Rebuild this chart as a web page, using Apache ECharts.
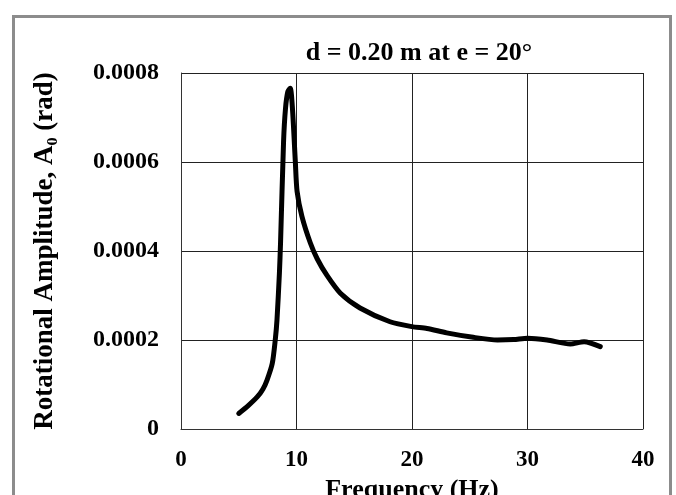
<!DOCTYPE html>
<html>
<head>
<meta charset="utf-8">
<script src="https://cdn.jsdelivr.net/npm/echarts@6/dist/echarts.min.js"></script>
<style>
html,body{margin:0;padding:0;background:#fff;}
#chart{width:676px;height:495px;}
</style>
</head>
<body>
<div id="chart"></div>
<script>
// Data
const freqHz = [5.0, 5.8, 6.6, 7.1, 7.45, 7.9, 8.16, 8.31, 8.52, 8.62, 8.88, 9.05, 9.25, 9.46, 9.65, 9.9, 10.05, 10.47, 11.2, 11.8, 12.64, 13.8, 15.5, 18.1, 20, 21.3, 23, 25.3, 27.4, 28.8, 30, 31.7, 33.7, 34.9, 36.3];
const amplitudeRad = [0.000035, 0.000052, 0.000072, 0.00009, 0.00011, 0.000147, 0.0002, 0.000245, 0.00035, 0.00042, 0.000646, 0.000721, 0.000758, 0.000766, 0.00072, 0.0006, 0.000534, 0.000478, 0.000418, 0.000382, 0.000345, 0.000305, 0.000272, 0.000241, 0.00023, 0.000226, 0.000216, 0.000206, 0.0002, 0.000201, 0.000204, 0.0002, 0.000191, 0.000196, 0.000185];
const xTicks = [0, 10, 20, 30, 40];
const yTicks = ['0', '0.0002', '0.0004', '0.0006', '0.0008'];
const titleText = 'd = 0.20 m at e = 20°';
const xName = 'Frequency (Hz)';
const yName = 'Rotational Amplitude, A\u2080 (rad)';

const seriesData = freqHz.map((f, i) => [f, amplitudeRad[i]]);
const FONT = '"Liberation Serif", "Times New Roman", serif';

const chart = echarts.init(document.getElementById('chart'), null, {renderer: 'canvas'});
chart.setOption({
  backgroundColor: '#ffffff',
  animation: false,
  graphic: [{
    type: 'rect',
    shape: {x: 13.5, y: 16.5, width: 657, height: 520},
    style: {fill: 'none', stroke: '#8c8c8c', lineWidth: 3},
    silent: true
  }],
  title: {
    text: titleText,
    left: 414,
    top: 35,
    textAlign: 'center',
    textStyle: {fontFamily: FONT, fontWeight: 'bold', fontSize: 26, color: '#000'}
  },
  grid: {left: 181, right: 33, top: 73, bottom: 66, containLabel: false, outerBoundsMode: 'none'},
  xAxis: {
    type: 'value',
    min: 0, max: 40, interval: 10,
    name: xName,
    nameLocation: 'middle',
    nameGap: 43,
    nameTextStyle: {fontFamily: FONT, fontWeight: 'bold', fontSize: 26, color: '#000'},
    axisLine: {show: true, lineStyle: {color: '#333', width: 1}},
    axisTick: {show: false},
    axisLabel: {
      margin: 20,
      fontFamily: FONT, fontWeight: 'bold', fontSize: 23, color: '#000',
      formatter: v => xTicks.includes(v) ? String(v) : ''
    },
    splitLine: {show: true, lineStyle: {color: '#222', width: 1}}
  },
  yAxis: {
    type: 'value',
    min: 0, max: 0.0008, interval: 0.0002,
    name: yName,
    nameLocation: 'middle',
    nameRotate: 90,
    nameGap: 122,
    nameTextStyle: {fontFamily: FONT, fontWeight: 'bold', fontSize: 27, color: '#000'},
    axisLine: {show: true, lineStyle: {color: '#333', width: 1}},
    axisTick: {show: false},
    axisLabel: {
      margin: 22,
      fontFamily: FONT, fontWeight: 'bold', fontSize: 24, color: '#000',
      formatter: v => yTicks[Math.round(v / 0.0002)]
    },
    splitLine: {show: true, lineStyle: {color: '#222', width: 1}}
  },
  series: [{
    type: 'line',
    data: seriesData,
    showSymbol: false,
    smooth: 0.25,
    lineStyle: {color: '#000', width: 5, cap: 'round', join: 'round'}
  }]
});
</script>
</body>
</html>
